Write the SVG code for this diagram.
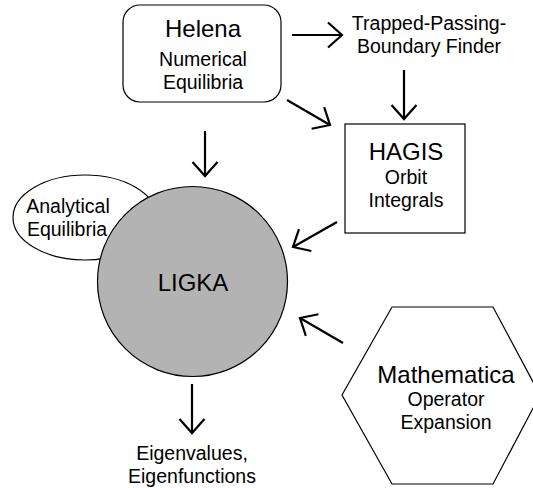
<svg xmlns="http://www.w3.org/2000/svg" width="533" height="488" viewBox="0 0 533 488">
<style>
text{font-family:"Liberation Sans",Arial,sans-serif;fill:#000;text-anchor:middle}
.h{font-size:24px}
.s{font-size:19.5px}
.shape{fill:#fff;stroke:#000;stroke-width:1.2}
.conn{stroke:#000;stroke-width:2.2;fill:none;marker-end:url(#arr)}
</style>
<defs>
<marker id="arr" markerUnits="userSpaceOnUse" viewBox="-18 -16 22 32" markerWidth="22" markerHeight="32" refX="0" refY="0" orient="auto" overflow="visible">
<path d="M-14,-12.5 L0,0 L-14,12.5" fill="none" stroke="#000" stroke-width="2.2"/>
</marker>
</defs>
<g id="analytical">
<ellipse class="shape" cx="85" cy="217.5" rx="72" ry="42.5"/>
<text class="s" x="68" y="213">Analytical</text>
<text class="s" x="67" y="236">Equilibria</text>
</g>
<g id="ligka">
<circle cx="192.5" cy="281.5" r="95" fill="#b3b3b3" stroke="#000" stroke-width="1.2"/>
<text class="h" x="193" y="291">LIGKA</text>
</g>
<g id="helena">
<rect class="shape" x="123" y="5" width="158" height="97" rx="17" ry="17"/>
<text class="h" x="203" y="37">Helena</text>
<text class="s" x="203" y="66">Numerical</text>
<text class="s" x="203" y="89">Equilibria</text>
</g>
<g id="tpb">
<text class="s" x="429" y="30">Trapped-Passing-</text>
<text class="s" x="429" y="53">Boundary Finder</text>
</g>
<g id="hagis">
<rect class="shape" x="345" y="124" width="120" height="109"/>
<text class="h" x="406" y="160">HAGIS</text>
<text class="s" x="406" y="184">Orbit</text>
<text class="s" x="406" y="207">Integrals</text>
</g>
<g id="mathematica">
<polygon class="shape" points="392,307 493,307 540,395 493,484 392,484 342,395"/>
<text class="h" x="446" y="383">Mathematica</text>
<text class="s" x="446" y="406">Operator</text>
<text class="s" x="446" y="429">Expansion</text>
</g>
<g id="eigen">
<text class="s" x="192" y="460">Eigenvalues,</text>
<text class="s" x="192" y="483">Eigenfunctions</text>
</g>
<g id="connectors">
<line class="conn" x1="292" y1="35" x2="342" y2="35"/>
<line class="conn" x1="404" y1="70" x2="404" y2="119"/>
<line class="conn" x1="287" y1="100" x2="330" y2="125"/>
<line class="conn" x1="205" y1="131" x2="205" y2="176"/>
<line class="conn" x1="337" y1="222" x2="293" y2="247"/>
<line class="conn" x1="343" y1="343" x2="300" y2="318"/>
<line class="conn" x1="192" y1="384" x2="192" y2="433"/>
</g>
</svg>
